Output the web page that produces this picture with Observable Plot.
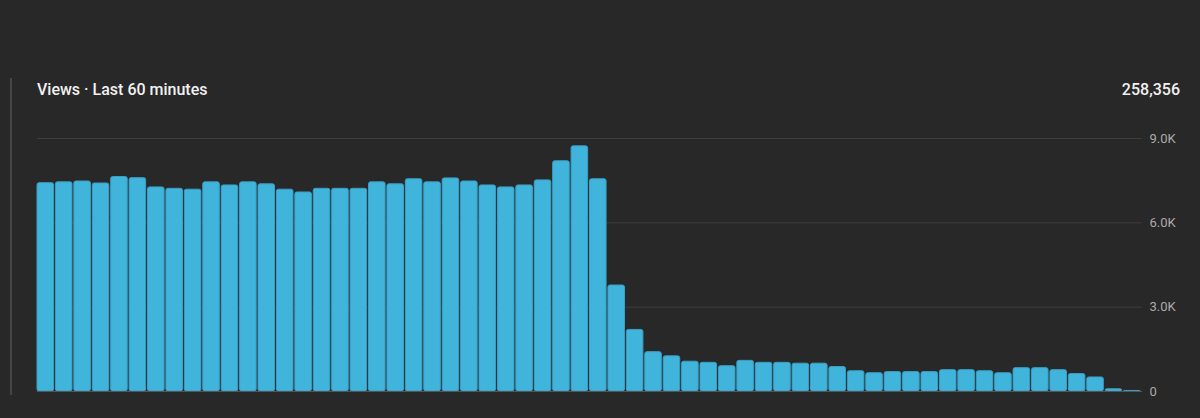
<!DOCTYPE html>
<html>
<head>
<meta charset="utf-8">
<script src="https://cdn.jsdelivr.net/npm/d3@7"></script>
<script src="https://cdn.jsdelivr.net/npm/@observablehq/plot@0.6"></script>
<style>
  html, body { margin: 0; padding: 0; background: #282828; }
  body { width: 1200px; height: 418px; overflow: hidden; position: relative; font-family: Roboto, "Noto Sans", sans-serif; }
  #sideline { position: absolute; left: 10px; top: 78px; width: 2px; height: 317px; background: #454545; }
  #title { position: absolute; left: 37px; top: 80px; font-size: 16px; font-weight: 500; color: #f1f1f1; line-height: 20px; }
  #total { position: absolute; right: 20px; top: 80px; font-size: 16px; font-weight: 500; color: #f1f1f1; line-height: 20px; }
  #chart { position: absolute; left: 0; top: 0; }
</style>
</head>
<body>
<div id="chart"></div>
<div id="sideline"></div>
<div id="title">Views · Last 60 minutes</div>
<div id="total">258,356</div>
<script>
const minutes = d3.range(1, 61);
const views = [
  7410, 7440, 7470, 7400, 7630, 7590, 7260, 7210, 7180, 7440,
  7330, 7440, 7370, 7180, 7080, 7210, 7210, 7210, 7440, 7370,
  7550, 7440, 7580, 7470, 7330, 7260, 7330, 7510, 8190, 8720,
  7550, 3770, 2190, 1400, 1250, 1060, 1020, 900, 1090, 1020,
  1020, 990, 990, 870, 720, 650, 690, 690, 690, 760,
  760, 720, 650, 830, 830, 760, 620, 500, 80, 20
];
const yTicks = [0, 3000, 6000, 9000];
const yTickLabels = ["0", "3.0K", "6.0K", "9.0K"];

const data = minutes.map((m, i) => ({minute: m, views: views[i]}));

const chart = Plot.plot({
  width: 1200,
  height: 418,
  marginTop: 138,
  marginBottom: 27,
  marginLeft: 37,
  marginRight: 58,
  style: { background: "transparent", fontFamily: "Roboto, sans-serif" },
  x: { type: "band", domain: minutes, paddingInner: 0.1, paddingOuter: 0.05, align: 0, round: false, axis: null },
  y: { domain: [0, 9000], axis: null },
  marks: [
    Plot.ruleY(yTicks.filter(d => d > 0), { stroke: "#3d3d3d", strokeWidth: 1 }),
    Plot.barY(data, { x: "minute", y: "views", fill: "#41b4dc", stroke: "#3a9fc4", strokeWidth: 1, rx: 2 }),
    Plot.ruleY([0], { stroke: "#555555", strokeWidth: 1 }),
    Plot.text(yTicks, { y: d => d, text: (d, i) => yTickLabels[i], frameAnchor: "right", textAnchor: "start", dx: 7, fill: "#aaaaaa", fontSize: 13 })
  ]
});
document.getElementById("chart").appendChild(chart);
</script>
</body>
</html>
